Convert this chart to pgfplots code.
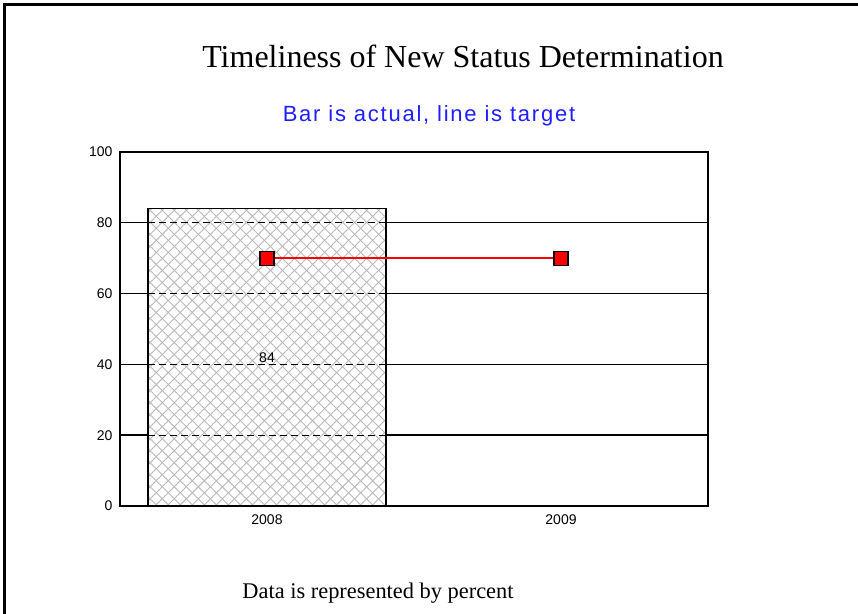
\documentclass[border=0pt]{standalone}
\usepackage{pgfplots}
\pgfplotsset{compat=1.18}
\usepackage{fontspec}
\setmainfont{Liberation Serif}
\newfontfamily\arial{Liberation Sans}
\newfontfamily\arialwide[LetterSpace=8]{Liberation Sans}
\usetikzlibrary{patterns.meta}
\definecolor{subblue}{RGB}{30,30,255}
\definecolor{hatch}{RGB}{185,185,185}
\begin{document}
\begin{tikzpicture}
\useasboundingbox (0pt,0pt) rectangle (858pt,613pt);
\draw[line width=3pt] (4.5pt,-5pt) -- (4.5pt,608pt) -- (870pt,608pt);
\node[anchor=base, font=\fontsize{32}{32}\selectfont] at (463pt,545pt) {Timeliness of New Status Determination};
\node[anchor=base, text=subblue, font=\arialwide\fontsize{22}{22}\selectfont] at (429pt,491pt) {Bar is actual, line is target};
\node[anchor=base, font=\fontsize{22.4}{22.4}\selectfont] at (378pt,15pt) {Data is represented by percent};
\begin{axis}[
  at={(120pt,107pt)}, anchor=south west,
  scale only axis, width=588pt, height=354pt,
  xmin=-0.5, xmax=1.5, ymin=0, ymax=100,
  xtick={0,1}, xticklabels={2008,2009},
  ytick={0,20,40,60,80,100},
  major tick length=0pt,
  ymajorgrids, grid style={black, line width=1.4pt},
  axis line style={black, line width=1.5pt},
  /pgf/number format/assume math mode=true,
  tick label style={font=\arial\fontsize{14}{14}\selectfont},
  yticklabel style={xshift=-4pt},
  xticklabel style={yshift=-5pt},
]
\addplot[ybar, bar width=0.81, fill=white, draw=black, line width=1.3pt,
  postaction={pattern={Lines[angle=45,distance=8.5pt,line width=0.9pt]}, pattern color=hatch},
  postaction={pattern={Lines[angle=-45,distance=8.5pt,line width=0.9pt]}, pattern color=hatch},
  nodes near coords, nodes near coords align={center},
  visualization depends on={rawy/2 \as \halfy},
  every node near coord/.append style={anchor=center, font=\arial\fontsize{14}{14}\selectfont, black, shift={(axis direction cs:0,-\halfy)}},
  point meta=y]
  coordinates {(0,84)};
\pgfplotsinvokeforeach{20,40,60,80}{
  \draw[black, line width=1.3pt, dash pattern=on 7pt off 4pt] (axis cs:-0.405,#1) -- (axis cs:0.405,#1);
}
\addplot[red, line width=1.5pt, mark=square*, mark size=7pt,
  mark options={fill=red, draw=black, line width=1.2pt, solid}]
  coordinates {(0,70) (1,70)};
\end{axis}
\end{tikzpicture}
\end{document}
